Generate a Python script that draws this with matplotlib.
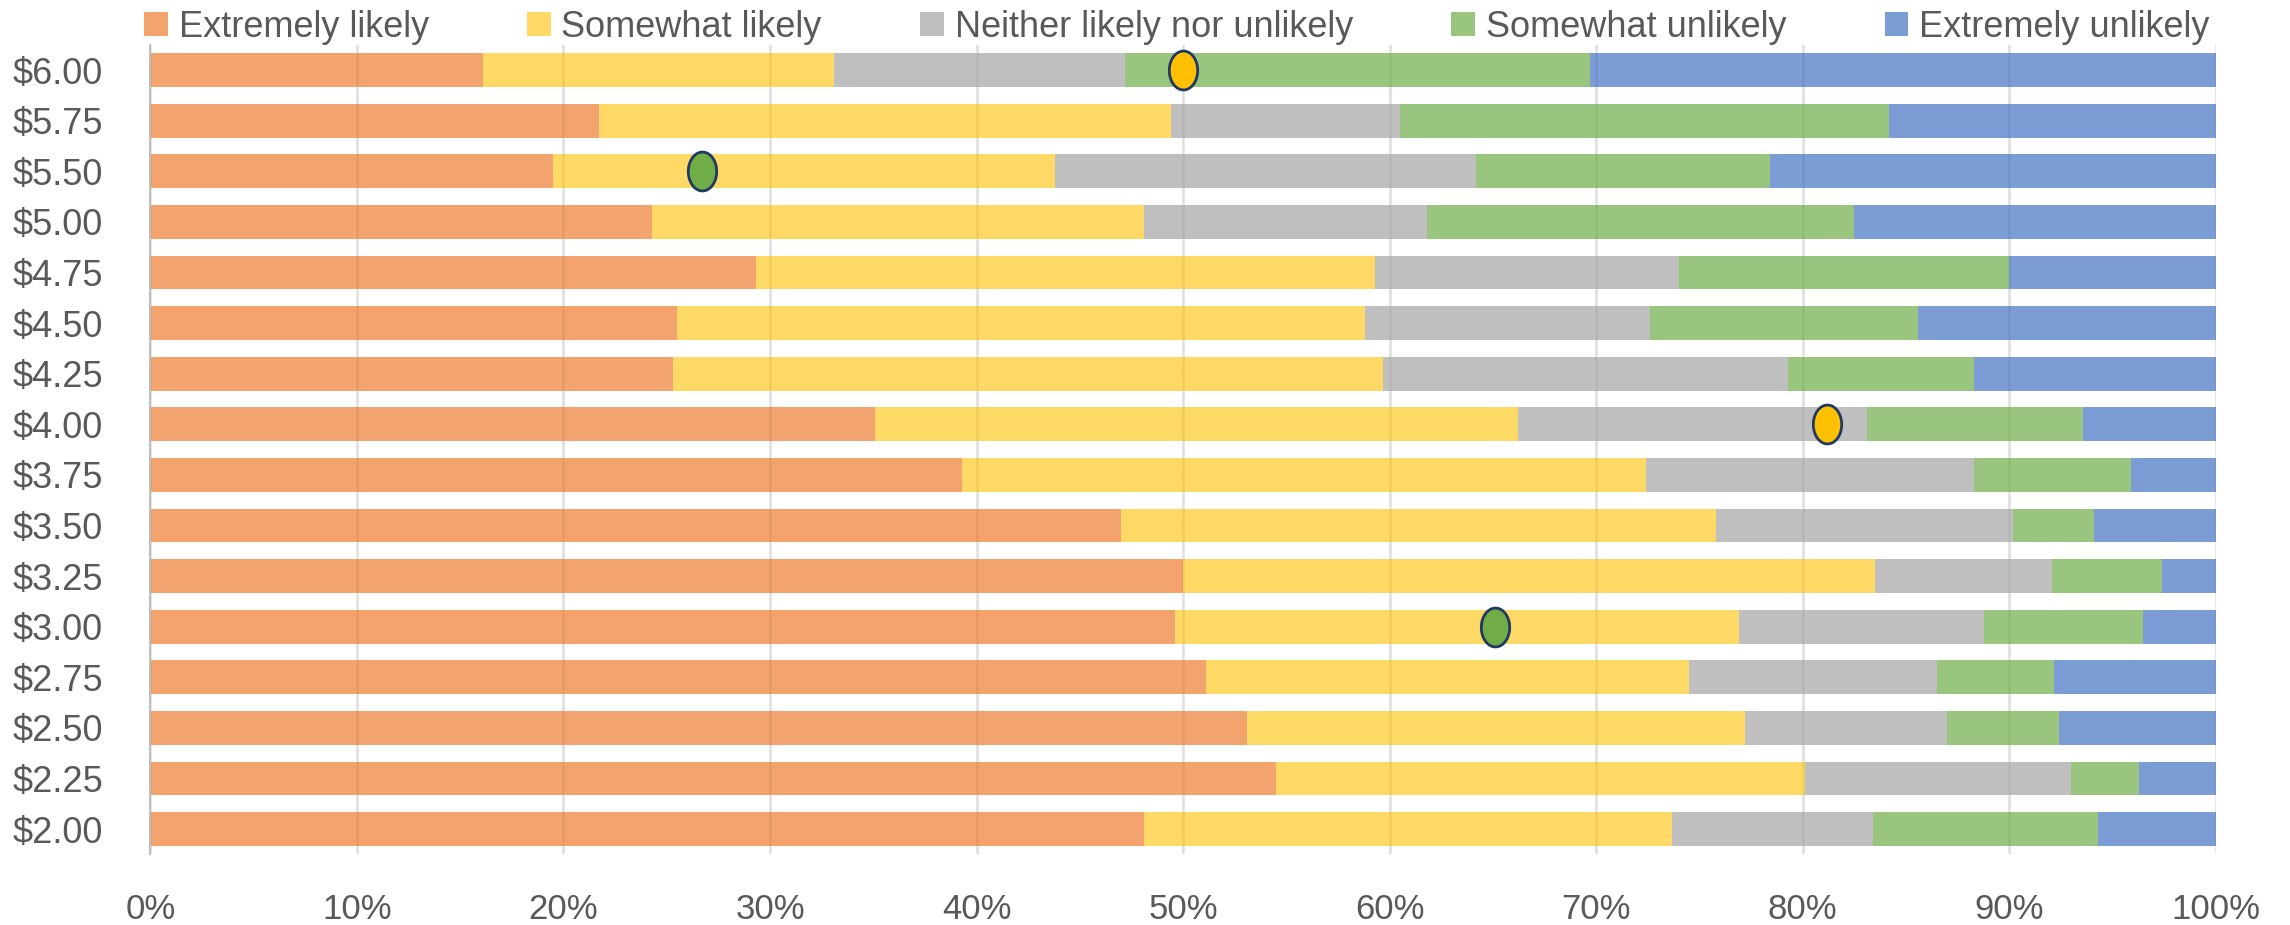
import numpy as np
import matplotlib.pyplot as plt
from matplotlib.patches import Patch
from matplotlib.path import Path

plt.rcParams['font.family'] = ['Liberation Sans', 'DejaVu Sans']

# price points, bottom to top
prices = ['$2.00', '$2.25', '$2.50', '$2.75', '$3.00', '$3.25', '$3.50', '$3.75',
          '$4.00', '$4.25', '$4.50', '$4.75', '$5.00', '$5.50', '$5.75', '$6.00']

# share of answers (%) per price
extremely_likely = [48.1, 54.5, 53.1, 51.1, 49.6, 50.0, 47.0, 39.3,
                    35.1, 25.3, 25.5, 29.3, 24.3, 19.5, 21.7, 16.1]
somewhat_likely = [25.6, 25.6, 24.1, 23.4, 27.3, 33.5, 28.8, 33.1,
                   31.1, 34.4, 33.3, 30.0, 23.8, 24.3, 27.7, 17.0]
neither = [9.7, 12.9, 9.8, 12.0, 11.9, 8.6, 14.4, 15.9,
           16.9, 19.6, 13.8, 14.7, 13.7, 20.4, 11.1, 14.1]
somewhat_unlikely = [10.9, 3.3, 5.4, 5.7, 7.7, 5.3, 3.9, 7.6,
                     10.5, 9.0, 13.0, 16.0, 20.7, 14.2, 23.7, 22.5]
extremely_unlikely = [5.7, 3.7, 7.6, 7.8, 3.5, 2.6, 5.9, 4.1,
                      6.4, 11.7, 14.4, 10.0, 17.5, 21.6, 15.8, 30.3]

# highlighted points
gold_prices = ['$6.00', '$4.00']
gold_pct = [50.0, 81.2]
green_prices = ['$5.50', '$3.00']
green_pct = [26.7, 65.1]

series = [extremely_likely, somewhat_likely, neither, somewhat_unlikely, extremely_unlikely]
names = ['Extremely likely', 'Somewhat likely', 'Neither likely nor unlikely',
         'Somewhat unlikely', 'Extremely unlikely']
colors = ['#ED7D31', '#FFC000', '#A5A5A5', '#70AD47', '#4472C4']
alphas = [0.7, 0.6, 0.7, 0.7, 0.7]
txt = '#595959'

fig = plt.figure(figsize=(22.9, 9.25), dpi=100)
ax = fig.add_axes([0.0657, 0.0763, 0.9018, 0.8753])

y = np.arange(len(prices))
left = np.zeros(len(prices))
for vals, c, a in zip(series, colors, alphas):
    vals = np.array(vals)
    ax.barh(y, vals, left=left, height=0.67, color=c, alpha=a, linewidth=0, zorder=2)
    left += vals

# tall ellipse marker
t = np.linspace(0, 2 * np.pi, 60)
ell = Path(np.column_stack([0.73 * np.cos(t), np.sin(t)]), closed=True)
ax.plot(gold_pct, [prices.index(p) for p in gold_prices], ls='none', marker=ell,
        markersize=28, markerfacecolor='#FFC000', markeredgecolor='#203864',
        markeredgewidth=2, zorder=4)
ax.plot(green_pct, [prices.index(p) for p in green_prices], ls='none', marker=ell,
        markersize=28, markerfacecolor='#70AD47', markeredgecolor='#203864',
        markeredgewidth=2, zorder=4)

ax.set_xlim(0, 100)
ax.set_ylim(-0.5, len(prices) - 0.5)
ax.set_xticks(np.arange(0, 101, 10))
ax.set_xticklabels([f'{v}%' for v in range(0, 101, 10)])
ax.set_yticks(y)
ax.set_yticklabels(prices)
ax.tick_params(axis='both', length=0, colors=txt)
ax.tick_params(axis='y', pad=34, labelsize=26)
ax.tick_params(axis='x', pad=28, labelsize=25)
ax.grid(axis='x', color='#DEDEDE', linewidth=1.8, zorder=0)
ax.set_axisbelow(True)
for s in ['top', 'right', 'bottom']:
    ax.spines[s].set_visible(False)
ax.spines['left'].set_color('#BFBFBF')
ax.spines['left'].set_linewidth(1.5)

handles = [Patch(facecolor=c, alpha=a, linewidth=0) for c, a in zip(colors, alphas)]
ax.legend(handles, names, ncol=5, loc='lower left', bbox_to_anchor=(-0.003, 1.0, 1.0, 0.05),
          mode='expand', frameon=False, fontsize=26, labelcolor=txt,
          handlelength=0.65, handleheight=0.65, handletextpad=0.3, borderaxespad=0,
          borderpad=0)

fig.savefig('out.png', dpi=100)
